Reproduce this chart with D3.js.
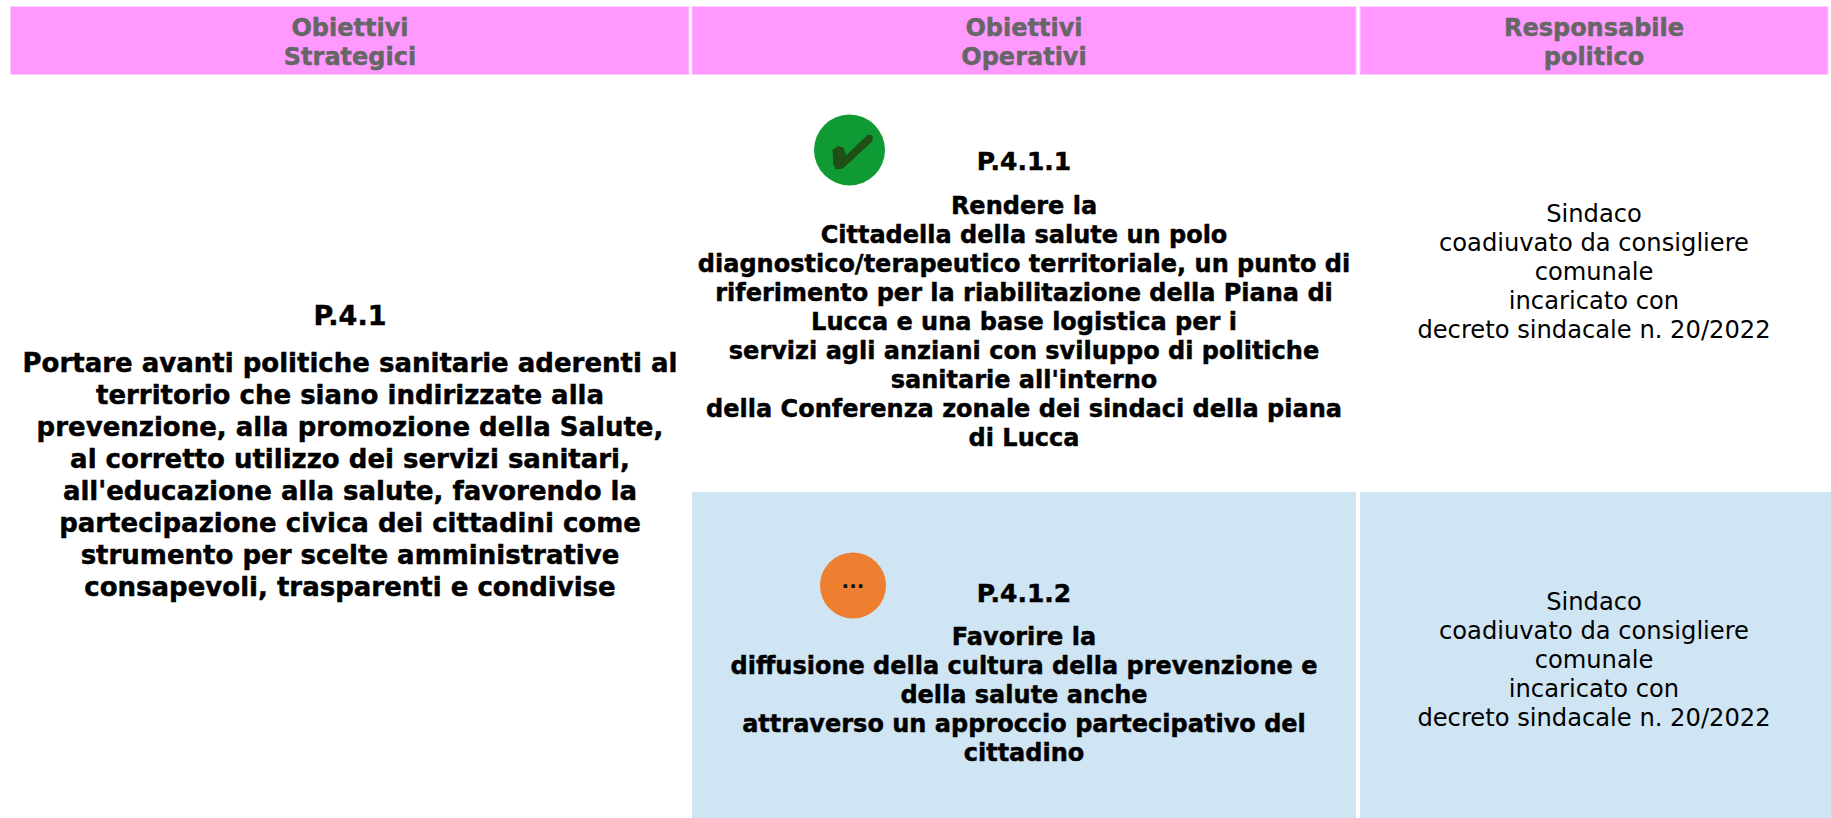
<!DOCTYPE html>
<html><head><meta charset="utf-8">
<script src="https://cdn.jsdelivr.net/npm/d3@7/dist/d3.min.js"></script>
<style>html,body{margin:0;padding:0;background:#fff}svg{display:block}</style>
</head><body><svg id="c" width="1831" height="818"></svg>
<script>
const headers = [["Obiettivi","Strategici"],["Obiettivi","Operativi"],["Responsabile","politico"]];
const strategicLines = ["Portare avanti politiche sanitarie aderenti al","territorio che siano indirizzate alla","prevenzione, alla promozione della Salute,","al corretto utilizzo dei servizi sanitari,","all'educazione alla salute, favorendo la","partecipazione civica dei cittadini come","strumento per scelte amministrative","consapevoli, trasparenti e condivise"];
const strategicCode = "P.4.1";
const opCodes = ["P.4.1.1","P.4.1.2"];
const opLines = [["Rendere la","Cittadella della salute un polo","diagnostico/terapeutico territoriale, un punto di","riferimento per la riabilitazione della Piana di","Lucca e una base logistica per i","servizi agli anziani con sviluppo di politiche","sanitarie all'interno","della Conferenza zonale dei sindaci della piana","di Lucca"],["Favorire la","diffusione della cultura della prevenzione e","della salute anche","attraverso un approccio partecipativo del","cittadino"]];
const respLines = ["Sindaco","coadiuvato da consigliere","comunale","incaricato con","decreto sindacale n. 20/2022"];
const F = "'DejaVu Sans', sans-serif";
const svg = d3.select("#c");
const centers = [350,1024,1594];
function lines(arr,cx,y0,lh,size,weight,fill){
  svg.append("g").selectAll("text").data(arr).join("text")
    .attr("x",cx).attr("y",(d,i)=>y0+i*lh)
    .attr("text-anchor","middle").attr("font-family",F)
    .attr("font-size",size).attr("font-weight",weight).attr("fill",fill)
    .attr("stroke",weight==="bold"?fill:"none").attr("stroke-width",weight==="bold"?0.45:0)
    .text(d=>d);
}
// header
const hx=[10.5,692,1360], hw=[678.5,664,468];
svg.append("g").selectAll("rect").data(headers).join("rect")
  .attr("x",(d,i)=>hx[i]).attr("y",6.5).attr("width",(d,i)=>hw[i]).attr("height",68)
  .attr("fill","#ff99ff").attr("stroke","#ffccff");
headers.forEach((h,i)=>lines(h,centers[i],35.5,29,24,"bold","#666666"));
// blue row
svg.append("rect").attr("x",692).attr("y",492).attr("width",664).attr("height",326).attr("fill","#cfe5f4");
svg.append("rect").attr("x",1360).attr("y",492).attr("width",471).attr("height",326).attr("fill","#cfe5f4");
// strategic
lines([strategicCode],350,325,29,27,"bold","#000");
lines(strategicLines,350,372,32,26,"bold","#000");
// operative
lines([opCodes[0]],1024,170,29,25,"bold","#000");
lines(opLines[0],1024,214,29,24,"bold","#000");
lines([opCodes[1]],1024,602,29,25,"bold","#000");
lines(opLines[1],1024,645,29,24,"bold","#000");
// responsible
lines(respLines,1594,222,29,24.2,"normal","#000");
lines(respLines,1594,610,29,24.2,"normal","#000");
// status icons
svg.append("circle").attr("cx",849.5).attr("cy",150).attr("r",35.5).attr("fill","#109a33");
const tick=[[833,150],[838,146.5],[843,148],[846,156],[868,135],[872,136],[872,141],[843,168],[836,169],[834,165]];
svg.append("path").attr("d",d3.line()(tick)+"Z").attr("fill","#1f4f14").attr("stroke","#1f4f14").attr("stroke-width",1).attr("stroke-linejoin","round");
svg.append("circle").attr("cx",853).attr("cy",585.5).attr("r",33).attr("fill","#ee7f31");
svg.append("text").attr("x",853).attr("y",587.5).attr("text-anchor","middle").attr("font-family",F).attr("font-weight","bold").attr("font-size",20).attr("fill","#111").text("...");
</script></body></html>
